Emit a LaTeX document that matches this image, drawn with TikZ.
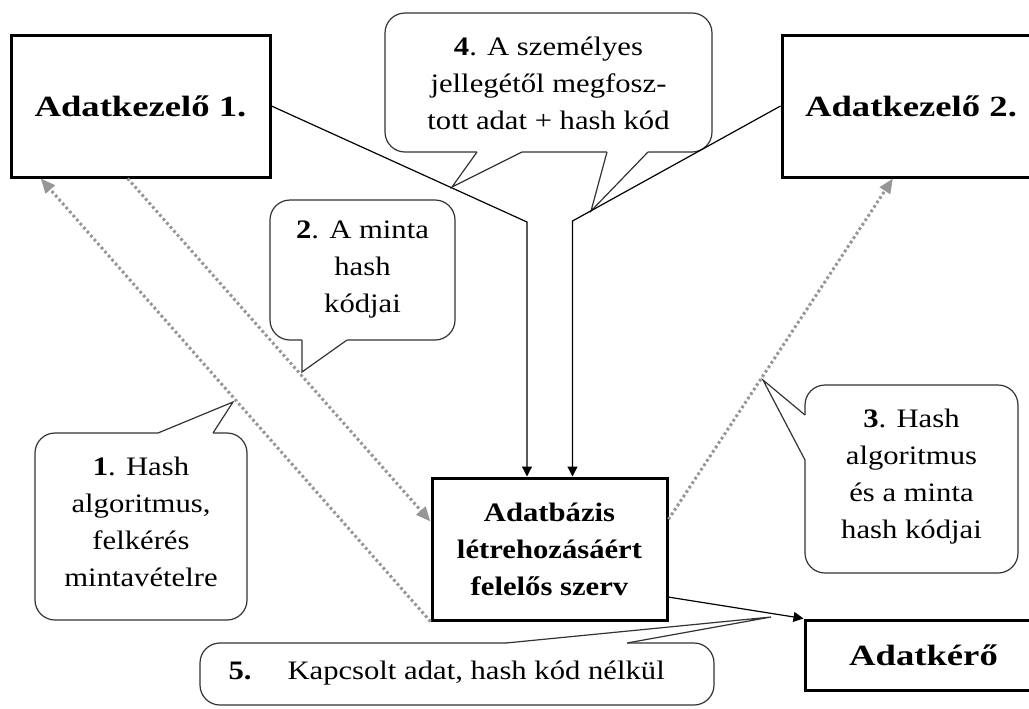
\documentclass[tikz,border=0pt]{standalone}
\usepackage{fontspec}
\setmainfont{Liberation Serif}[FakeStretch=1.15]
\newfontfamily\headfont{Liberation Serif}[FakeStretch=1.25]
\usetikzlibrary{arrows.meta}

\tikzset{every picture/.style={line width=0.75pt}}
\tikzset{
  headbox/.style={draw, line width=2.25pt, inner sep=0pt, font=\headfont\bfseries\fontsize{22}{26}\selectfont},
  dbbox/.style={draw, line width=2.25pt, inner sep=0pt, align=center, font=\bfseries\fontsize{20}{27.75}\selectfont},
  bubble/.style={draw={rgb, 255:red, 51; green, 51; blue, 51 }, line width=0.9pt, rounded corners=15pt, fill=white},
  bubbletail/.style={draw={rgb, 255:red, 51; green, 51; blue, 51 }, line width=0.9pt, line join=miter},
  bubbletext/.style={align=center, inner sep=0pt, font=\fontsize{20}{27.75}\selectfont},
  folyam/.style={line width=0.9pt, -{Triangle[length=7.5pt,width=7.5pt]}},
  pontozott/.style={color={rgb, 255:red, 150; green, 150; blue, 150 }, line width=2.25pt, dash pattern=on 2pt off 2pt, -{Triangle[length=11pt,width=9pt]}}
}

\begin{document}
\begin{tikzpicture}[x=0.75pt,y=0.75pt,yscale=-1,xscale=1]
\useasboundingbox (0,0) rectangle (1029,708);

%Shape: Rectangle (boxes)
\node[headbox, minimum width=194.25pt, minimum height=106.5pt] (kez1) at (140.5,106) {Adatkezelő 1.};
\node[headbox, minimum width=193.5pt, minimum height=106.5pt] (kez2) at (911,106) {Adatkezelő 2.};
\node[dbbox, minimum width=176.25pt, minimum height=106.5pt] (adatb) at (549.5,549) {Adatbázis\\létrehozásáért\\felelős szerv};
\node[headbox, minimum width=177.75pt, minimum height=52.5pt] (kero) at (923.5,655) {Adatkérő};

%Callout 4
\draw[bubble] (385,13) rectangle (712,152);
\fill[white] (477,152) -- (452,187) -- (522,152) -- (522,148) -- (477,148) -- cycle;
\draw[bubbletail] (477,152) -- (452,187) -- (522,152);
\fill[white] (607,152) -- (591,211) -- (648,152) -- (648,148) -- (607,148) -- cycle;
\draw[bubbletail] (607,152) -- (591,211) -- (648,152);
%Callout 2
\draw[bubble] (270,200) rectangle (455,340);
\fill[white] (302,340) -- (302,372) -- (347,340) -- (347,336) -- (302,336) -- cycle;
\draw[bubbletail] (302,340) -- (302,372) -- (347,340);
%Callout 1
\draw[bubble] (35,433) rectangle (247,620);
\fill[white] (158,433) -- (233,402) -- (213,433) -- (213,437) -- (158,437) -- cycle;
\draw[bubbletail] (158,433) -- (233,402) -- (213,433);
%Callout 3
\draw[bubble] (805,385) rectangle (1018,573);
\fill[white] (805,415) -- (763,380) -- (805,460) -- (809,460) -- (809,415) -- cycle;
\draw[bubbletail] (805,415) -- (763,380) -- (805,460);
%Callout 5
\draw[bubble] (200,643) rectangle (714,705);
\fill[white] (506,643) -- (771,617) -- (627,643) -- (627,647) -- (506,647) -- cycle;
\draw[bubbletail] (506,643) -- (771,617) -- (627,643);

% Text Node
\node[bubbletext] (szov4) at (548.5,83) {\textbf{4}. A személyes\\jellegétől megfosz-\\tott adat + hash kód};
% Text Node
\node[bubbletext] (szov2) at (362.5,270) {\textbf{2}. A minta\\hash\\kódjai};
% Text Node
\node[bubbletext] (szov1) at (141,522) {\textbf{1}. Hash\\algoritmus,\\felkérés\\mintavételre};
% Text Node
\node[bubbletext] (szov3) at (911.5,477) {\textbf{3}. Hash\\algoritmus\\és a minta\\hash kódjai};
% Text Node
\node[bubbletext, anchor=west] (szov5) at (228,673) {\textbf{5.}\hspace{27pt}Kapcsolt adat, hash kód nélkül};

%Straight Lines
\coordinate (hajlat1) at (527,222);
\coordinate (hajlat2) at (572.5,221);
\draw[folyam] (kez1.east) -- (hajlat1) -- (hajlat1 |- adatb.north);
\draw[folyam] (kez2.west) -- (hajlat2) -- (hajlat2 |- adatb.north);
\draw[folyam] (adatb.-22) -- (kero.north west);
%Dotted Lines
\draw[pontozott] (adatb.south west) -- (kez1.216);
\draw[pontozott] (kez1.260) -- (adatb.167);
\draw[pontozott] (adatb.14) -- (kez2.256);

\end{tikzpicture}
\end{document}
